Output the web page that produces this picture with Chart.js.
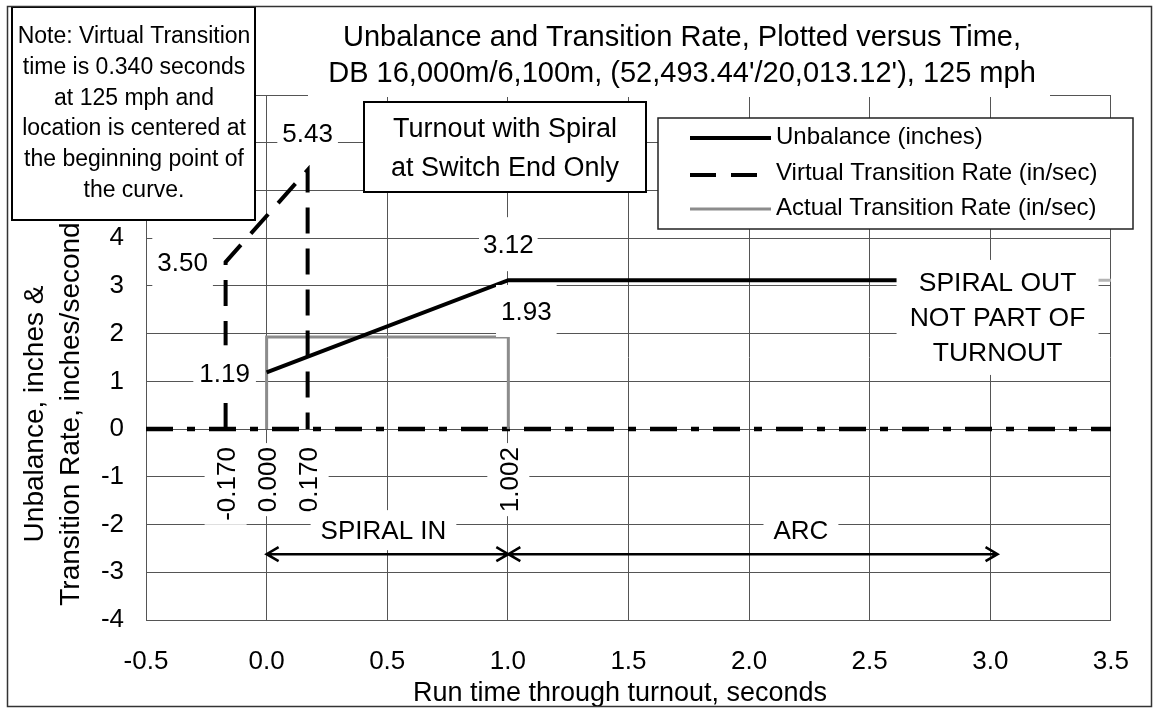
<!DOCTYPE html>
<html>
<head>
<meta charset="utf-8">
<script src="https://cdn.jsdelivr.net/npm/chart.js@4.4.0/dist/chart.umd.min.js"></script>
<style>
  html, body { margin: 0; padding: 0; background: #fff; }
  canvas { display: block; }
</style>
</head>
<body>
<canvas id="grafico" width="1155" height="709"></canvas>
<script>
// valores
const unbalanceX = [0.000, 1.002, 3.03];
const unbalanceY = [1.19, 3.12, 3.12];
const virtualX = [-0.170, -0.170, 0.170, 0.170];
const virtualY = [0, 3.50, 5.43, 0];
const actualX = [0.000, 0.000, 1.002, 1.002];
const actualY = [0, 1.93, 1.93, 0];
const spiralOutX = [3.03, 3.5];
const spiralOutY = [3.12, 3.12];
const zeroX = [-0.5, 3.5];
const zeroY = [0, 0];
const arrowY = -2.62;
const arcEndX = 3.03;

const xTickLabels = ['-0.5', '0.0', '0.5', '1.0', '1.5', '2.0', '2.5', '3.0', '3.5'];
const yTickLabels = ['-4', '-3', '-2', '-1', '0', '1', '2', '3', '4', '5', '6', '7'];
const seriesNames = ['Unbalance (inches)', 'Virtual Transition Rate (in/sec)', 'Actual Transition Rate (in/sec)'];

const titleLines = ['Unbalance and Transition Rate, Plotted versus Time,',
    "DB 16,000m/6,100m, (52,493.44'/20,013.12'), 125 mph"];
const yTitleLines = ['Unbalance, inches &', 'Transition Rate, inches/second'];
const xTitle = 'Run time through turnout, seconds';
const noteLines = ['Note: Virtual Transition', 'time is 0.340 seconds', 'at 125 mph and',
    'location is centered at', 'the beginning point of', 'the curve.'];
const boxLines = ['Turnout with Spiral', 'at Switch End Only'];
const spiralOutLines = ['SPIRAL OUT', 'NOT PART OF', 'TURNOUT'];
const spiralInText = 'SPIRAL IN';
const arcText = 'ARC';

const FONT = "'Liberation Sans', Arial, sans-serif";

function pares(xs, ys) {
    return xs.map((x, i) => ({ x: x, y: ys[i] }));
}

// texto con el centro de las mayusculas en cy
function texto(ctx, str, x, cy, size, align) {
    ctx.font = size + 'px ' + FONT;
    ctx.textAlign = align || 'center';
    ctx.textBaseline = 'alphabetic';
    ctx.fillStyle = '#000';
    ctx.fillText(str, x, cy + 0.358 * size);
}

function caja(ctx, x, y, w, h, borde, grosor) {
    ctx.fillStyle = '#fff';
    ctx.fillRect(x, y, w, h);
    if (borde) {
        ctx.strokeStyle = borde;
        ctx.lineWidth = grosor;
        ctx.setLineDash([]);
        ctx.strokeRect(x, y, w, h);
    }
}

function etiqueta(ctx, str, cx, cy, size, padX, h) {
    ctx.font = size + 'px ' + FONT;
    const w = ctx.measureText(str).width + 2 * padX;
    caja(ctx, cx - w / 2, cy - h / 2, w, h);
    texto(ctx, str, cx, cy, size);
}

// etiqueta girada 90 grados, el final del texto arriba en topY
function etiquetaVertical(ctx, str, px, topY, size) {
    ctx.save();
    ctx.translate(px, topY);
    ctx.rotate(-Math.PI / 2);
    ctx.font = size + 'px ' + FONT;
    const w = ctx.measureText(str).width;
    ctx.fillStyle = '#fff';
    ctx.fillRect(-w - 4, -21, w + 8, 42);
    ctx.fillStyle = '#000';
    ctx.textAlign = 'right';
    ctx.textBaseline = 'alphabetic';
    ctx.fillText(str, 0, 0.358 * size);
    ctx.restore();
}

function flecha(ctx, x1, x2, y) {
    ctx.save();
    ctx.strokeStyle = '#000';
    ctx.lineWidth = 2.5;
    ctx.setLineDash([]);
    ctx.beginPath();
    ctx.moveTo(x1, y);
    ctx.lineTo(x2, y);
    ctx.moveTo(x1 + 12, y - 7);
    ctx.lineTo(x1, y);
    ctx.lineTo(x1 + 12, y + 7);
    ctx.moveTo(x2 - 12, y - 7);
    ctx.lineTo(x2, y);
    ctx.lineTo(x2 - 12, y + 7);
    ctx.stroke();
    ctx.restore();
}

const anotaciones = {
    id: 'anotaciones',
    afterDraw(chart) {
        const ctx = chart.ctx;
        const xs = chart.scales.x;
        const ys = chart.scales.y;
        const px = v => xs.getPixelForValue(v);
        const py = v => ys.getPixelForValue(v);

        // flechas de spiral in / arc
        const ay = py(arrowY);
        flecha(ctx, px(actualX[0]), px(actualX[2]), ay);
        flecha(ctx, px(actualX[2]), px(arcEndX), ay);

        // etiquetas de datos
        etiqueta(ctx, virtualY[2].toFixed(2), px(virtualX[2]), py(virtualY[2]) - 37, 26, 5, 52);
        etiqueta(ctx, virtualY[1].toFixed(2), px(virtualX[1]) - 43, py(virtualY[1]), 26, 5, 52);
        etiqueta(ctx, unbalanceY[0].toFixed(2), px(unbalanceX[0]) - 42, py(unbalanceY[0]), 26, 6, 54);
        etiqueta(ctx, unbalanceY[1].toFixed(2), px(unbalanceX[1]), py(unbalanceY[1]) - 36, 26, 4, 54);
        etiqueta(ctx, actualY[1].toFixed(2), px(actualX[2]) + 18, py(actualY[1]) - 26, 26, 5, 52);

        const y0 = py(0);
        etiquetaVertical(ctx, virtualX[0].toFixed(3), px(virtualX[0]), y0 + 18, 26);
        etiquetaVertical(ctx, actualX[0].toFixed(3), px(actualX[0]), y0 + 18, 26);
        etiquetaVertical(ctx, virtualX[2].toFixed(3), px(virtualX[2]), y0 + 18, 26);
        etiquetaVertical(ctx, actualX[2].toFixed(3), px(actualX[2]), y0 + 18, 26);

        etiqueta(ctx, spiralInText, (px(actualX[0]) + px(actualX[2])) / 2 - 4, ay - 24, 26, 10, 40);
        etiqueta(ctx, arcText, px(2.215), ay - 24, 26, 10, 40);

        // spiral out
        const sx = px(arcEndX), sy = py(2.35);
        caja(ctx, sx - 101, sy - 57, 202, 115);
        spiralOutLines.forEach((t, i) => texto(ctx, t, sx, sy - 35 + i * 35, 26.5));

        // titulo
        caja(ctx, 308, 8, 742, 89);
        texto(ctx, titleLines[0], 682, 36, 29);
        texto(ctx, titleLines[1], 682, 72, 29);

        // titulos de ejes
        texto(ctx, xTitle, 620, 691, 27);
        ctx.save();
        ctx.translate(33, 414);
        ctx.rotate(-Math.PI / 2);
        texto(ctx, yTitleLines[0], 0, 0, 28);
        ctx.restore();
        ctx.save();
        ctx.translate(69, 414);
        ctx.rotate(-Math.PI / 2);
        texto(ctx, yTitleLines[1], 0, 0, 28);
        ctx.restore();

        // caja turnout
        caja(ctx, 364, 102, 282, 90, '#000', 2);
        texto(ctx, boxLines[0], 505, 127.5, 27);
        texto(ctx, boxLines[1], 505, 166.5, 27);

        // leyenda
        caja(ctx, 658, 118, 475, 111, '#222', 1.5);
        const filas = [[138, 135], [175, 171.5], [209, 206.5]];
        seriesNames.forEach((nombre, i) => {
            const ds = chart.data.datasets.find(d => d.label === nombre);
            ctx.save();
            ctx.strokeStyle = ds.borderColor;
            ctx.lineWidth = ds.borderWidth;
            ctx.setLineDash(ds.borderDash || []);
            ctx.beginPath();
            ctx.moveTo(690, filas[i][0]);
            ctx.lineTo(ds.borderDash ? 761 : 771, filas[i][0]);
            ctx.stroke();
            ctx.restore();
            texto(ctx, nombre, 776, filas[i][1], 24, 'left');
        });

        // nota
        caja(ctx, 12, 7, 243, 213, '#000', 2);
        noteLines.forEach((t, i) => texto(ctx, t, 134, 35 + i * 30.7, 23));

        // borde exterior
        ctx.save();
        ctx.strokeStyle = '#333';
        ctx.lineWidth = 1.5;
        ctx.strokeRect(7.5, 6.5, 1144, 700);
        ctx.restore();
    }
};

const ctx = document.getElementById('grafico').getContext('2d');
const grafico = new Chart(ctx, {
    type: 'line',
    data: {
        datasets: [
            { label: seriesNames[1], data: pares(virtualX, virtualY), borderColor: '#000', borderWidth: 4, borderDash: [26, 15] },
            { label: 'spiral out', data: pares(spiralOutX, spiralOutY), borderColor: '#b4b4b4', borderWidth: 3 },
            { label: seriesNames[0], data: pares(unbalanceX, unbalanceY), borderColor: '#000', borderWidth: 4 },
            { label: seriesNames[2], data: pares(actualX, actualY), borderColor: '#8c8c8c', borderWidth: 3 },
            { label: 'eje cero', data: pares(zeroX, zeroY), borderColor: '#000', borderWidth: 4.5, borderDash: [27, 14, 8, 14] }
        ]
    },
    options: {
        responsive: false,
        animation: false,
        events: [],
        elements: {
            point: { radius: 0 },
            line: { tension: 0, fill: false, borderCapStyle: 'butt' }
        },
        layout: { padding: { top: 95, right: 44, bottom: 0, left: 0 } },
        plugins: {
            legend: { display: false },
            tooltip: { enabled: false },
            title: { display: false }
        },
        scales: {
            x: {
                type: 'linear',
                min: -0.5,
                max: 3.5,
                afterFit: s => { s.height = 89; },
                afterBuildTicks: s => { s.ticks = xTickLabels.map(t => ({ value: parseFloat(t) })); },
                ticks: {
                    callback: (v, i) => xTickLabels[i],
                    font: { family: FONT, size: 26 },
                    color: '#000',
                    padding: 26,
                    maxRotation: 0,
                    autoSkip: false
                },
                grid: { color: '#555', lineWidth: 1, drawTicks: false },
                border: { color: '#555', width: 1 }
            },
            y: {
                type: 'linear',
                min: -4,
                max: 7,
                afterFit: s => { s.width = 146; },
                afterBuildTicks: s => { s.ticks = yTickLabels.map(t => ({ value: parseFloat(t) })); },
                ticks: {
                    callback: (v, i) => yTickLabels[i],
                    font: { family: FONT, size: 26 },
                    color: '#000',
                    padding: 22,
                    autoSkip: false
                },
                grid: { color: '#555', lineWidth: 1, drawTicks: false },
                border: { color: '#555', width: 1 }
            }
        }
    },
    plugins: [anotaciones]
});
</script>
</body>
</html>
